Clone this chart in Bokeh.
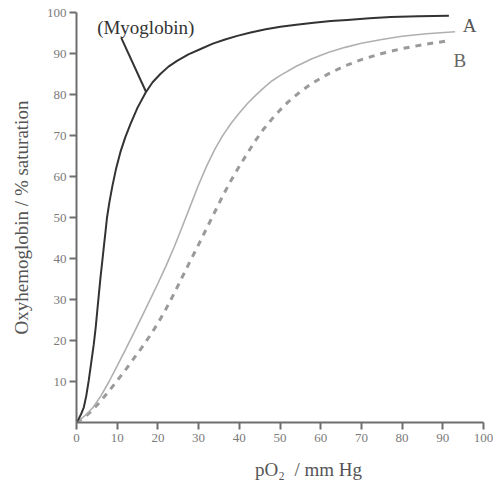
from bokeh.plotting import figure
from bokeh.models import FixedTicker, Range1d, Label
from bokeh.embed import file_html
from bokeh.resources import INLINE

# Myoglobin curve
myo_x = [0, 0.6, 1.2, 1.8, 2.4, 3.0, 3.6, 4.25, 4.7, 5.1, 5.5, 5.9, 6.3, 6.7, 7.1, 7.5,
         8.1, 8.8, 9.7, 10.8, 12.0, 13.3, 15.0, 17.0, 18.7, 20.6, 22.6, 24.7, 27.5,
         30.5, 33.5, 36.5, 39.5, 42.8, 46.5, 50.1, 54.0, 58.3, 62.5, 66.5, 72.0, 77.2,
         84.0, 91.5]
myo_y = [0, 1.0, 2.2, 3.7, 6.5, 10.2, 14.5, 19.1, 23.0, 27.2, 31.3, 35.4, 39.0, 42.7,
         46.3, 50.0, 53.8, 57.6, 61.8, 66.0, 69.6, 72.9, 76.8, 80.5, 83.0, 85.0, 86.8,
         88.2, 89.8, 91.1, 92.4, 93.4, 94.3, 95.1, 95.9, 96.5, 97.0, 97.5, 97.9, 98.2,
         98.6, 98.9, 99.1, 99.2]

# Curve A (solid light grey)
a_x = [0, 2, 4, 6, 8, 10, 12, 14, 16, 18, 20, 22, 24, 26, 28, 30, 32, 34, 36, 38, 40,
       42, 44, 46, 48, 50, 54, 58, 62, 66, 70, 75, 80, 86, 93]
a_y = [0, 1.6, 3.6, 6.5, 10.0, 13.8, 17.7, 21.7, 25.7, 29.8, 33.9, 38.2, 42.8, 47.8,
       52.9, 58.0, 62.6, 66.7, 70.1, 73.0, 75.5, 77.8, 79.8, 81.6, 83.3, 84.6, 86.9,
       88.8, 90.3, 91.5, 92.5, 93.4, 94.2, 94.8, 95.3]

# Curve B (dashed grey)
b_x = [0, 2, 4, 6, 8, 10, 12, 14, 16, 18, 20, 22, 24, 26, 28, 30, 32, 34, 36, 38, 40,
       42, 44, 46, 48, 50, 52, 55, 58, 62, 66, 70, 75, 80, 86, 91.5]
b_y = [0, 1.3, 3.1, 5.3, 7.7, 10.2, 12.8, 15.5, 18.2, 21.1, 24.2, 27.7, 31.5, 35.5,
       39.5, 43.4, 47.4, 51.4, 55.4, 59.1, 62.5, 65.7, 68.8, 71.6, 74.0, 76.2, 78.2,
       80.7, 82.8, 85.1, 87.0, 88.5, 90.0, 91.2, 92.3, 93.1]

x_ticks = [0, 10, 20, 30, 40, 50, 60, 70, 80, 90, 100]
y_ticks = [10, 20, 30, 40, 50, 60, 70, 80, 90, 100]

SERIF = "Liberation Serif"

p = figure(width=493, height=491, output_backend="svg", toolbar_location=None,
           x_range=Range1d(0, 100), y_range=Range1d(0, 100),
           min_border_left=76, min_border_right=10, min_border_top=12, min_border_bottom=69)
p.outline_line_color = None
p.xgrid.visible = False
p.ygrid.visible = False
p.background_fill_color = "white"
p.border_fill_color = "white"

for ax in (p.xaxis[0], p.yaxis[0]):
    ax.axis_line_color = "#6e6e6e"
    ax.axis_line_width = 2
    ax.major_tick_line_color = "#6e6e6e"
    ax.major_tick_line_width = 2
    ax.major_tick_out = 7
    ax.major_tick_in = 0
    ax.minor_tick_line_color = None
    ax.major_label_text_font = SERIF
    ax.major_label_text_font_size = "13px"
    ax.major_label_text_color = "#7a7a7a"
    ax.axis_label_text_font = SERIF
    ax.axis_label_text_font_size = "19px"
    ax.axis_label_text_font_style = "normal"
    ax.axis_label_text_color = "#555555"

p.xaxis[0].ticker = FixedTicker(ticks=x_ticks)
p.yaxis[0].ticker = FixedTicker(ticks=y_ticks)
p.xaxis[0].major_label_standoff = 4
p.yaxis[0].major_label_standoff = 3
p.yaxis[0].axis_label = "Oxyhemoglobin / % saturation"
p.yaxis[0].axis_label_standoff = 12
p.xaxis[0].axis_label = "\u00a0" * 12 + "pO\u2082\u00a0 / mm Hg"
p.xaxis[0].axis_label_standoff = 14

p.line(b_x, b_y, line_color="#9a9a9a", line_width=3, line_dash="6 6")
p.line(a_x, a_y, line_color="#b0b0b0", line_width=1.6)
p.line(myo_x, myo_y, line_color="#333333", line_width=2)

# pointer for Myoglobin label
p.segment(x0=[11.0], y0=[93.8], x1=[17.1], y1=[80.6], line_color="#333333", line_width=2)

p.add_layout(Label(x=17, y=96.3, text="(Myoglobin)", text_font=SERIF, text_font_size="19px",
                   text_color="#333333", text_align="center", text_baseline="middle"))
p.add_layout(Label(x=96.6, y=96.8, text="A", text_font=SERIF, text_font_size="19px",
                   text_color="#555555", text_align="center", text_baseline="middle"))
p.add_layout(Label(x=94.2, y=88.2, text="B", text_font=SERIF, text_font_size="19px",
                   text_color="#666666", text_align="center", text_baseline="middle"))

open("out.html", "w").write(file_html(p, INLINE))
